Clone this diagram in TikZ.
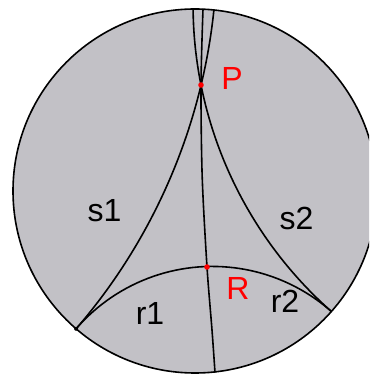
\documentclass[tikz,border=0pt]{standalone}
\usepackage{fontspec}
\setmainfont{Liberation Sans}
\definecolor{diskgray}{RGB}{194,193,198}
\begin{document}
\begin{tikzpicture}[x=1pt,y=1pt,
  geo/.style={line width=1.6pt, black},
  lab/.style={font=\fontsize{32}{32}\selectfont, anchor=base, inner sep=0pt},
  redlab/.style={lab, text=red}]
\useasboundingbox (0,0) rectangle (369,377);
\clip (0,0) rectangle (369,377);
\coordinate (O) at (195,186);
\fill[diskgray] (O) circle[radius=182];
\coordinate (A) at (76.1,48.2);
\coordinate (B) at (331.4,65.5);
\coordinate (P) at (201,292);
\coordinate (R) at (207,110);
\coordinate (T3) at (203,368);
\coordinate (M1) at (202.2,200);
\coordinate (M2) at (212,47);
\coordinate (Bt) at (215,4.5);
% r geodesic
\draw[geo] (A) arc[start angle=139.21, end angle=48.55, radius=179.9];
% s1 geodesic
\draw[geo] (A) arc[start angle=-40.81, end angle=-5.94, radius=579.58];
% s2 geodesic
\draw[geo] (B) arc[start angle=228.54, end angle=180.61, radius=409.46];
% line through P and R
\draw[geo] plot[smooth] coordinates {(T3) (P) (M1) (R) (M2) (Bt)};
% boundary
\draw[geo] (O) circle[radius=182];
\fill[black] (A) circle[radius=2];
\fill[red] (P) circle[radius=2.8];
\fill[red] (R) circle[radius=2.8];
\node[redlab] (lP) at (232,287) {P};
\node[redlab] (lR) at (238,77) {R};
\node[lab] (ls1) at (104.5,155) {s1};
\node[lab] (ls2) at (296.5,147) {s2};
\node[lab] (lr1) at (150,52) {r1};
\node[lab] (lr2) at (285,64) {r2};
\end{tikzpicture}
\end{document}
